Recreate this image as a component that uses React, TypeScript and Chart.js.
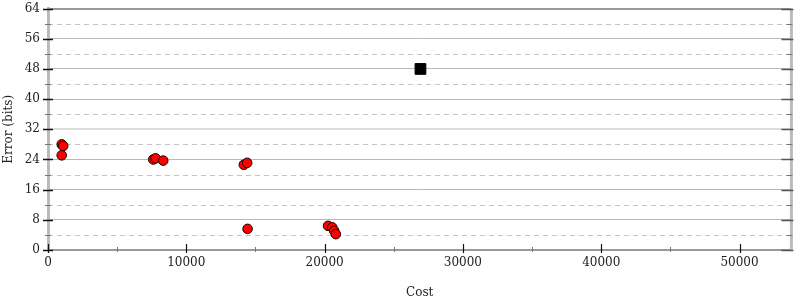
import React, { useEffect, useRef } from 'react';
import { Chart, registerables } from 'chart.js';

Chart.register(...registerables);

// Data
const costRed = [990, 1100, 990, 7610, 7780, 8330, 14160, 14400, 14430, 20250, 20550, 20690, 20810];
const errorRed = [28.0, 27.6, 25.1, 24.0, 24.3, 23.7, 22.6, 23.1, 5.6, 6.4, 6.0, 5.1, 4.2];
const costBlack = [26930];
const errorBlack = [48];

const yMajor = [0, 8, 16, 24, 32, 40, 48, 56, 64];
const yMinor = [4, 12, 20, 28, 36, 44, 52, 60];
const xMajor = [0, 10000, 20000, 30000, 40000, 50000];
const xMinor = [5000, 15000, 25000, 35000, 45000];
const xMax = 53750;

const axisDecor = {
  id: 'axisDecor',
  beforeDatasetsDraw(chart: any) {
    const { ctx, chartArea: a, scales } = chart;
    const x = scales.x;
    const y = scales.y;
    const line = (x1: number, y1: number, x2: number, y2: number) => {
      ctx.beginPath();
      ctx.moveTo(x1, y1);
      ctx.lineTo(x2, y2);
      ctx.stroke();
    };
    ctx.save();
    ctx.setLineDash([5, 4]);
    ctx.strokeStyle = '#c4c4c4';
    ctx.lineWidth = 1;
    for (const v of yMinor) {
      const py = Math.round(y.getPixelForValue(v)) + 0.5;
      line(a.left, py, a.right, py);
    }
    ctx.setLineDash([]);
    ctx.strokeStyle = '#bbbbbb';
    ctx.lineWidth = 3;
    line(a.right, a.top, a.right, a.bottom);
    for (const v of yMajor) {
      const py = Math.round(y.getPixelForValue(v)) + 0.5;
      ctx.lineWidth = 1.5;
      ctx.strokeStyle = '#111';
      line(a.left - 5, py, a.left + 5, py);
      ctx.strokeStyle = '#555';
      line(a.right - 10, py, a.right + 2, py);
    }
    for (const v of yMinor) {
      const py = Math.round(y.getPixelForValue(v)) + 0.5;
      ctx.lineWidth = 1;
      ctx.strokeStyle = '#777';
      line(a.left - 3, py, a.left + 3, py);
      line(a.right - 5, py, a.right + 1, py);
    }
    for (const v of xMajor) {
      const px = Math.round(x.getPixelForValue(v)) + 0.5;
      ctx.lineWidth = 1.2;
      ctx.strokeStyle = '#111';
      line(px, a.bottom - 6, px, a.bottom + 3);
    }
    for (const v of xMinor) {
      const px = Math.round(x.getPixelForValue(v)) + 0.5;
      ctx.lineWidth = 1;
      ctx.strokeStyle = '#777';
      line(px, a.bottom - 3, px, a.bottom + 2);
    }
    ctx.restore();
  },
};

export default function App() {
  const ref = useRef<HTMLCanvasElement | null>(null);

  useEffect(() => {
    if (!ref.current) return;
    Chart.defaults.font.family = "'DejaVu Serif', serif";
    Chart.defaults.font.size = 12;
    Chart.defaults.color = '#222';
    const chart = new Chart(ref.current, {
      type: 'scatter',
      data: {
        datasets: [
          {
            label: 'red',
            data: costRed.map((c, i) => ({ x: c, y: errorRed[i] })),
            backgroundColor: '#ff0000',
            borderColor: '#1a0000',
            borderWidth: 1,
            pointRadius: 4.8,
            pointStyle: 'circle',
          },
          {
            label: 'black',
            data: costBlack.map((c, i) => ({ x: c, y: errorBlack[i] })),
            backgroundColor: '#000000',
            borderColor: '#000000',
            borderWidth: 1,
            pointRadius: 7.6,
            pointStyle: 'rect',
          },
        ],
      },
      options: {
        animation: false,
        responsive: false,
        layout: { padding: { top: 1, right: 5, left: 0, bottom: 0 } },
        plugins: {
          legend: { display: false },
          tooltip: { enabled: false },
        },
        scales: {
          x: {
            type: 'linear',
            min: 0,
            max: xMax,
            afterFit: (s: any) => {
              s.height = 50;
            },
            afterBuildTicks: (s: any) => {
              s.ticks = xMajor.map((v) => ({ value: v }));
            },
            ticks: {
              padding: 6,
              maxRotation: 0,
              autoSkip: false,
              font: { size: 12 },
              color: '#222',
              callback: (v: any) => String(v),
            },
            grid: { drawOnChartArea: false, drawTicks: false },
            border: { color: '#999999', width: 2 },
            title: {
              display: true,
              text: 'Cost',
              font: { size: 12 },
              color: '#222',
              padding: { top: 3, bottom: 0 },
            },
          },
          y: {
            type: 'linear',
            min: 0,
            max: 64,
            afterFit: (s: any) => {
              s.width = 48;
            },
            afterBuildTicks: (s: any) => {
              s.ticks = yMajor.map((v) => ({ value: v }));
            },
            ticks: {
              padding: 1,
              autoSkip: false,
              font: { size: 12 },
              color: '#222',
              callback: (v: any) => String(v),
            },
            grid: {
              drawTicks: true,
              tickLength: 7,
              tickColor: 'rgba(0,0,0,0)',
              color: (c: any) => {
                const v = c.tick?.value;
                if (v === 64 || v === 0) return '#999999';
                if (v === 32) return '#dddddd';
                return '#b8b8b8';
              },
              lineWidth: (c: any) => {
                const v = c.tick?.value;
                if (v === 64 || v === 32) return 2;
                return 1;
              },
            },
            border: { color: '#bbbbbb', width: 3 },
            title: {
              display: true,
              text: 'Error (bits)',
              font: { size: 12 },
              color: '#222',
              padding: { top: 2, bottom: 0 },
            },
          },
        },
      },
      plugins: [axisDecor],
    } as any);
    return () => chart.destroy();
  }, []);

  return (
    <div style={{ position: 'absolute', left: 0, top: 0, width: 800, height: 300, background: '#fff' }}>
      <canvas ref={ref} width={800} height={300} style={{ display: 'block' }} />
    </div>
  );
}
